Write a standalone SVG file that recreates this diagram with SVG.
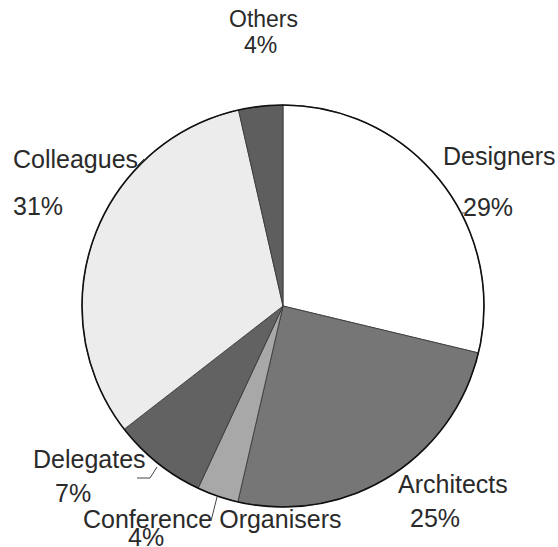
<svg xmlns="http://www.w3.org/2000/svg" width="558" height="547" viewBox="0 0 558 547">
<style>
.slice{stroke:#333;stroke-width:0.8;stroke-linejoin:round}
.lbl{font-family:"Liberation Sans",Arial,sans-serif;font-size:25px;fill:#2a2a2a}
.small{font-size:23px}
.lead{fill:none;stroke:#444;stroke-width:1}
</style>
<rect width="558" height="547" fill="#fff"/>
<g id="designers">
<path class="slice" fill="#ffffff" d="M283,306 L283,105 A201,201 0 0 1 478.4,352.9 Z"/>
<text class="lbl" x="443" y="165">Designers</text>
<text class="lbl" x="463" y="216">29%</text>
</g>
<g id="architects">
<path class="slice" fill="#767676" d="M283,306 L478.4,352.9 A201,201 0 0 1 237.8,501.9 Z"/>
<text class="lbl" x="398" y="493">Architects</text>
<text class="lbl" x="410" y="527">25%</text>
</g>
<g id="conference-organisers">
<path class="slice" fill="#a8a8a8" d="M283,306 L237.8,501.9 A201,201 0 0 1 198.1,488.2 Z"/>
<text class="lbl" x="83" y="528">Conference Organisers</text>
<text class="lbl" x="128" y="546">4%</text>
</g>
<g id="delegates">
<path class="slice" fill="#626262" d="M283,306 L198.1,488.2 A201,201 0 0 1 124.2,429.2 Z"/>
<text class="lbl" x="33" y="468">Delegates</text>
<text class="lbl" x="55" y="502">7%</text>
</g>
<g id="colleagues">
<path class="slice" fill="#ececec" d="M283,306 L124.2,429.2 A201,201 0 0 1 238.5,110 Z"/>
<text class="lbl" x="13" y="168">Colleagues</text>
<text class="lbl" x="13" y="215">31%</text>
</g>
<g id="others">
<path class="slice" fill="#5e5e5e" d="M283,306 L238.5,110 A201,201 0 0 1 283,105 Z"/>
<text class="lbl small" x="229" y="27">Others</text>
<text class="lbl small" x="244" y="53">4%</text>
</g>
<circle cx="283" cy="306" r="201" fill="none" stroke="#111" stroke-width="1.6"/>
<g id="connectors">
<line class="lead" x1="137" y1="166" x2="144" y2="159"/>
<line class="lead" x1="461" y1="213" x2="466" y2="213"/>
<polyline class="lead" points="137,478 150,478 157,467"/>
<line class="lead" x1="211" y1="521" x2="217" y2="497"/>
</g>
</svg>
